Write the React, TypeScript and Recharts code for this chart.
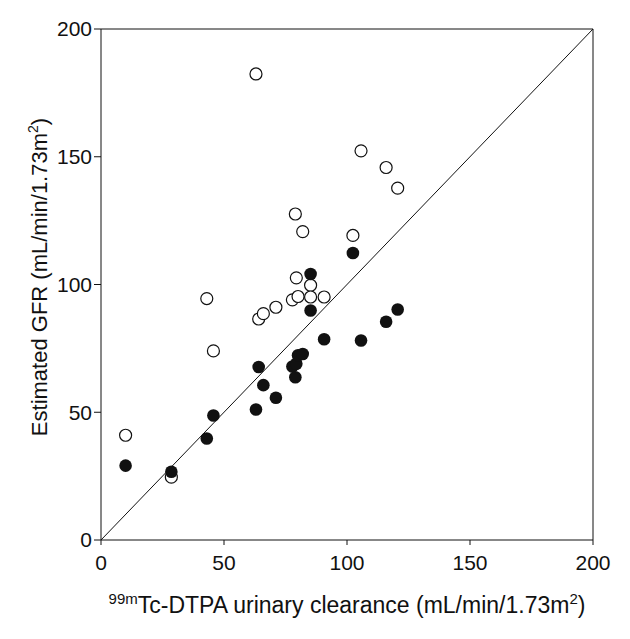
import React from 'react';
import { ScatterChart, Scatter, XAxis, YAxis, ReferenceLine } from 'recharts';

// 99mTc-DTPA urinary clearance per patient
const clearance = [10, 28.6, 43, 45.7, 63, 64.1, 66, 71.1, 77.8, 79, 79.4, 80.1, 82, 85.2, 85.2, 90.7, 102.4, 105.7, 115.9, 120.6];
// estimated GFR, open circles
const gfrOpen = [41, 24.6, 94.5, 74, 182.4, 86.5, 88.6, 91.1, 94, 127.6, 102.6, 95.3, 120.7, 99.7, 95.1, 95.1, 119.2, 152.3, 145.8, 137.7];
// estimated GFR, filled circles
const gfrFilled = [29.1, 26.7, 39.7, 48.7, 51.1, 67.7, 60.6, 55.7, 67.9, 63.7, 69, 72.3, 72.8, 89.8, 104.1, 78.6, 112.3, 78.1, 85.4, 90.2];
const ticks = [0, 50, 100, 150, 200];

const openData = clearance.map((x, i) => ({ x, y: gfrOpen[i] }));
const filledData = clearance.map((x, i) => ({ x, y: gfrFilled[i] }));

const FONT = '"Liberation Sans", Arial, Helvetica, sans-serif';
const INK = '#111';

const OpenDot = (p: any) => <circle cx={p.cx} cy={p.cy} r={6} fill="#fff" stroke={INK} strokeWidth={1.2} />;
const FilledDot = (p: any) => <circle cx={p.cx} cy={p.cy} r={6.3} fill={INK} />;

const XLabel = (props: any) => {
  const vb = props.viewBox;
  return (
    <text x={vb.x + vb.width / 2} y={613} textAnchor="middle" fontFamily={FONT} fontSize={23} fill={INK}>
      <tspan fontSize={15} dy={-9}>99m</tspan>
      <tspan dy={9}>Tc-DTPA urinary clearance (mL/min/1.73m</tspan>
      <tspan fontSize={15} dy={-9}>2</tspan>
      <tspan dy={9}>)</tspan>
    </text>
  );
};

const YLabel = () => {
  const cx = 47;
  const cy = 277;
  return (
    <text x={cx} y={cy} transform={`rotate(-90 ${cx} ${cy})`} textAnchor="middle" fontFamily={FONT} fontSize={22} fill={INK}>
      <tspan>Estimated GFR (mL/min/1.73m</tspan>
      <tspan fontSize={14} dy={-9}>2</tspan>
      <tspan dy={9}>)</tspan>
    </text>
  );
};

export default function App() {
  return (
    <div style={{ position: 'absolute', left: 0, top: 0, background: '#fff' }}>
      <ScatterChart width={630} height={639} margin={{ top: 29, right: 37, bottom: 0, left: 0 }}>
        <XAxis
          type="number"
          dataKey="x"
          domain={[0, 200]}
          ticks={ticks}
          height={99}
          tickSize={5}
          tickMargin={10}
          axisLine={{ stroke: INK }}
          tickLine={{ stroke: INK }}
          tick={{ fill: INK, fontSize: 21, fontFamily: FONT }}
          label={{ content: XLabel }}
        />
        <YAxis
          type="number"
          dataKey="y"
          domain={[0, 200]}
          ticks={ticks}
          width={101}
          tickSize={7}
          tickMargin={2}
          axisLine={{ stroke: INK }}
          tickLine={{ stroke: INK }}
          tick={{ fill: INK, fontSize: 21, fontFamily: FONT }}
          label={{ content: YLabel }}
        />
        <ReferenceLine x={200} stroke={INK} />
        <ReferenceLine y={200} stroke={INK} />
        <ReferenceLine segment={[{ x: 0, y: 0 }, { x: 200, y: 200 }]} stroke={INK} strokeWidth={1} />
        <Scatter data={openData} shape={OpenDot} isAnimationActive={false} />
        <Scatter data={filledData} shape={FilledDot} isAnimationActive={false} />
      </ScatterChart>
    </div>
  );
}
